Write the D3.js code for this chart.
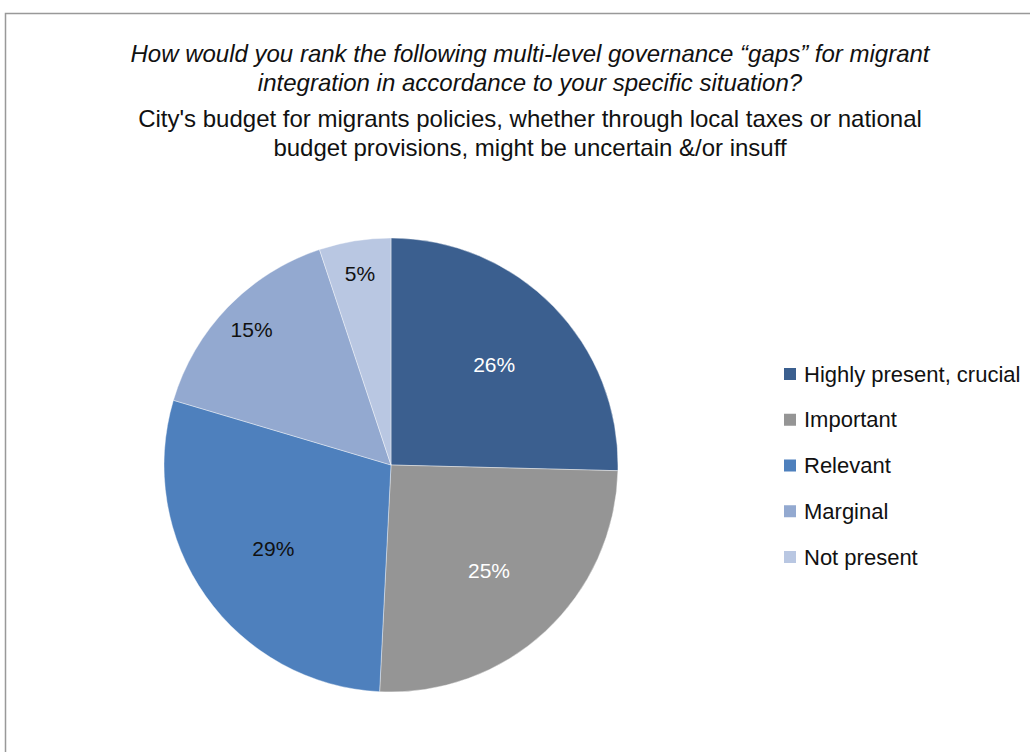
<!DOCTYPE html>
<html>
<head>
<meta charset="utf-8">
<script src="https://cdn.jsdelivr.net/npm/d3@7"></script>
<style>
html,body{margin:0;padding:0;background:#fff;}
svg{display:block;}
text{font-family:"Liberation Sans Narrow","Arial Narrow","Liberation Sans",Arial,sans-serif;}
</style>
</head>
<body>
<svg id="chart" width="1030" height="752"></svg>
<script>
const categories = ["Highly present, crucial","Important","Relevant","Marginal","Not present"];
const sliceValues = [25.4, 25.4, 28.8, 15.3, 5.1];
const sliceLabels = ["26%","25%","29%","15%","5%"];
const colors = ["#3B5F8F","#959595","#4E80BD","#93A9D0","#B9C7E2"];
const labelColors = ["#ffffff","#ffffff","#111111","#111111","#111111"];
const titleItalic = ["How would you rank the following multi-level governance \u201cgaps\u201d for migrant",
                     "integration in accordance to your specific situation?"];
const titleNormal = ["City's budget for migrants policies, whether through local taxes or national",
                     "budget provisions, might be uncertain &/or insuff"];

const svg = d3.select("#chart");
svg.append("rect").attr("x",5.5).attr("y",13.5).attr("width",1040).attr("height",760)
  .attr("fill","#fff").attr("stroke","#999").attr("stroke-width",1.5);

const tx = 530;
const tg = svg.append("g").attr("font-size",24).attr("fill","#111").attr("text-anchor","middle");
titleItalic.forEach((t,i)=>tg.append("text").attr("x",tx).attr("y",62+i*29).attr("font-style","italic").text(t));
titleNormal.forEach((t,i)=>tg.append("text").attr("x",tx).attr("y",127+i*29).text(t));

const cx = 391, cy = 465, R = 227;
const pie = d3.pie().sort(null).value(d=>d)(sliceValues);
const arc = d3.arc().innerRadius(0).outerRadius(R);
const g = svg.append("g").attr("transform",`translate(${cx},${cy})`);
g.selectAll("path").data(pie).enter().append("path")
  .attr("d",arc).attr("fill",(d,i)=>colors[i]).attr("stroke","#fff").attr("stroke-width",0.4);
g.selectAll("text").data(pie).enter().append("text")
  .attr("transform",d=>{
    const r = R*(d.data < 20 ? 0.855 : 0.635);
    return `translate(${d3.arc().innerRadius(r).outerRadius(r).centroid(d)})`;
  })
  .attr("text-anchor","middle").attr("dy","0.35em")
  .attr("font-size",21).attr("fill",(d,i)=>labelColors[i])
  .text((d,i)=>sliceLabels[i]);

const lg = svg.append("g");
const rowY = d3.scaleLinear().domain([0,4]).range([374,557]);
categories.forEach((c,i)=>{
  lg.append("rect").attr("x",784).attr("y",rowY(i)-6).attr("width",12).attr("height",12).attr("fill",colors[i]);
  lg.append("text").attr("x",804).attr("y",rowY(i)).attr("dy","0.35em").attr("font-size",22).attr("fill","#111").text(c);
});
</script>
</body>
</html>
